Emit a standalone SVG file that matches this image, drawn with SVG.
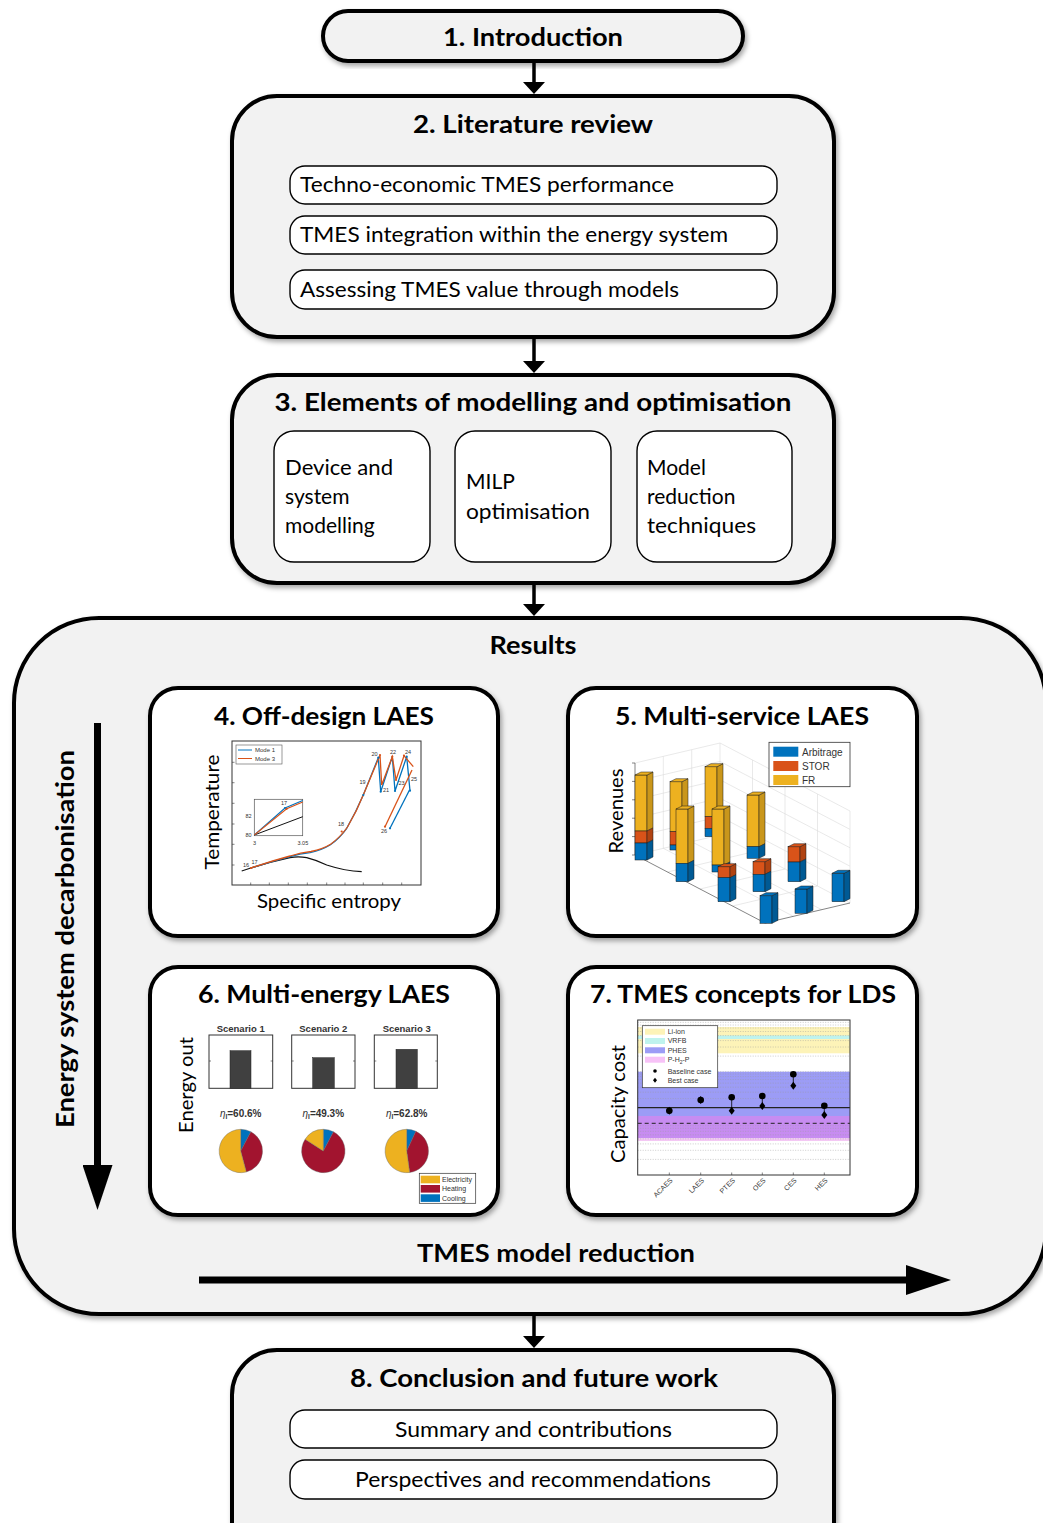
<svg xmlns="http://www.w3.org/2000/svg" width="1043" height="1523" viewBox="0 0 1043 1523">
<style>
.big{fill:#f2f2f2;stroke:#000;stroke-width:4;filter:url(#sh)}
.panel{fill:#fff;stroke:#000;stroke-width:4;filter:url(#sh)}
.inner{fill:#fff;stroke:#000;stroke-width:1.4}
.t{font-family:Lato,"Open Sans","Liberation Sans",sans-serif;font-weight:700;font-size:25px;text-anchor:middle;fill:#000}
.b{font-family:Lato,"Open Sans","Liberation Sans",sans-serif;font-size:21px;fill:#000}
.bc{font-family:Lato,"Open Sans","Liberation Sans",sans-serif;font-size:21px;fill:#000;text-anchor:middle}
.ax{font-family:Lato,"Open Sans","Liberation Sans",sans-serif;font-size:20px;fill:#000;text-anchor:middle}
.sm{font-family:"Liberation Sans",Arial,sans-serif;fill:#333}
.conn{stroke:#000;stroke-width:3.5;fill:none;marker-end:url(#ah)}
.bigarrow{stroke:#000;stroke-width:7;fill:none;marker-end:url(#ah2)}
.bar{stroke:#1a1a1a;stroke-width:0.5}
.by{fill:#EDB120}.bys{fill:#c9961b}
.br{fill:#D95319}.brs{fill:#b04312}
.bb{fill:#0072BD}.bbs{fill:#005a94}
.grid{stroke:#dadada;stroke-width:0.6;fill:none}
.dot{stroke:#9a9a9a;stroke-width:0.5;stroke-dasharray:1 1.5;fill:none}
</style>
<defs>
<filter id="sh" x="-5%" y="-5%" width="115%" height="120%">
<feDropShadow dx="2" dy="3" stdDeviation="2.5" flood-color="#000" flood-opacity="0.35"/>
</filter>
<marker id="ah" markerUnits="userSpaceOnUse" viewBox="0 0 12 22" markerWidth="12" markerHeight="22" refX="3" refY="11" orient="auto">
<path d="M0,0 L12,11 L0,22 z" fill="#000"/>
</marker>
<marker id="ah2" markerUnits="userSpaceOnUse" viewBox="0 0 45 30" markerWidth="45" markerHeight="30" refX="5" refY="15" orient="auto">
<path d="M0,0 L45,15 L0,30 z" fill="#000"/>
</marker>
</defs>

<rect width="1043" height="1523" fill="#fff"/>

<!-- Results container -->
<g id="results">
<rect class="big" x="14" y="618" width="1032" height="696" rx="85"/>
<text class="t" x="533" y="654" font-size="24" textLength="87" lengthAdjust="spacingAndGlyphs">Results</text>
<text class="t" transform="translate(74,939) rotate(-90)" textLength="378" lengthAdjust="spacingAndGlyphs">Energy system decarbonisation</text>
<text class="t" x="556" y="1262" textLength="278" lengthAdjust="spacingAndGlyphs">TMES model reduction</text>
<line class="bigarrow" x1="97.5" y1="723" x2="97.5" y2="1170"/>
<line class="bigarrow" x1="199" y1="1280" x2="911" y2="1280"/>
</g>

<!-- Connectors -->
<g id="connectors">
<line class="conn" x1="534" y1="62" x2="534" y2="85"/>
<line class="conn" x1="534" y1="338" x2="534" y2="364"/>
<line class="conn" x1="534" y1="584" x2="534" y2="607"/>
<line class="conn" x1="534" y1="1316" x2="534" y2="1339"/>
</g>

<g id="n1">
<rect class="big" x="323" y="11" width="420" height="50" rx="25"/>
<text class="t" x="533" y="46" textLength="180" lengthAdjust="spacingAndGlyphs">1. Introduction</text>
</g>

<g id="n2">
<rect class="big" x="232" y="96" width="602" height="241" rx="45"/>
<text class="t" x="533" y="133" textLength="240" lengthAdjust="spacingAndGlyphs">2. Literature review</text>
<rect class="inner" x="290" y="166" width="487" height="38" rx="15"/>
<text class="b" x="300" y="192" textLength="374" lengthAdjust="spacingAndGlyphs">Techno-economic TMES performance</text>
<rect class="inner" x="290" y="216" width="487" height="38" rx="15"/>
<text class="b" x="300" y="242" textLength="428" lengthAdjust="spacingAndGlyphs">TMES integration within the energy system</text>
<rect class="inner" x="290" y="270" width="487" height="39" rx="15"/>
<text class="b" x="300" y="297" textLength="379" lengthAdjust="spacingAndGlyphs">Assessing TMES value through models</text>
</g>

<g id="n3">
<rect class="big" x="232" y="375" width="602" height="208" rx="45"/>
<text class="t" x="533" y="411" textLength="517" lengthAdjust="spacingAndGlyphs">3. Elements of modelling and optimisation</text>
<rect class="inner" x="274" y="431" width="156" height="131" rx="20"/>
<text class="b" x="285" y="475" textLength="108" lengthAdjust="spacingAndGlyphs">Device and</text>
<text class="b" x="285" y="504">system</text>
<text class="b" x="285" y="533">modelling</text>
<rect class="inner" x="455" y="431" width="156" height="131" rx="20"/>
<text class="b" x="466" y="489">MILP</text>
<text class="b" x="466" y="519" textLength="124" lengthAdjust="spacingAndGlyphs">optimisation</text>
<rect class="inner" x="637" y="431" width="155" height="131" rx="20"/>
<text class="b" x="647" y="475">Model</text>
<text class="b" x="647" y="504">reduction</text>
<text class="b" x="647" y="533" textLength="109" lengthAdjust="spacingAndGlyphs">techniques</text>
</g>

<!-- Panel 4 -->
<g id="n4">
<rect class="panel" x="150" y="688" width="348" height="248" rx="28"/>
<text class="t" x="324" y="725" textLength="220" lengthAdjust="spacingAndGlyphs">4. Off-design LAES</text>
<text class="ax" transform="translate(219,812) rotate(-90)" textLength="115" lengthAdjust="spacingAndGlyphs">Temperature</text>
<text class="ax" x="329" y="908" textLength="144" lengthAdjust="spacingAndGlyphs">Specific entropy</text>
<rect x="232" y="741" width="189" height="144" fill="#fff" stroke="#333" stroke-width="1"/>
<g stroke="#333" stroke-width="0.6">
<line x1="232" y1="762.3" x2="234.5" y2="762.3"/><line x1="232" y1="782.7" x2="234.5" y2="782.7"/><line x1="232" y1="803.3" x2="234.5" y2="803.3"/><line x1="232" y1="824" x2="234.5" y2="824"/><line x1="232" y1="844.3" x2="234.5" y2="844.3"/><line x1="232" y1="865" x2="234.5" y2="865"/>
<line x1="250.7" y1="885" x2="250.7" y2="882.5"/><line x1="269.3" y1="885" x2="269.3" y2="882.5"/><line x1="288.3" y1="885" x2="288.3" y2="882.5"/><line x1="307.3" y1="885" x2="307.3" y2="882.5"/><line x1="326.7" y1="885" x2="326.7" y2="882.5"/><line x1="345" y1="885" x2="345" y2="882.5"/><line x1="363.3" y1="885" x2="363.3" y2="882.5"/><line x1="382.7" y1="885" x2="382.7" y2="882.5"/><line x1="401.7" y1="885" x2="401.7" y2="882.5"/>
</g>
<path d="M241.7,871 L250,868.3 Q270,862 290,857.7 Q298,856 306.7,857.7 Q316,860 326.7,865 Q345,871 361.7,871.7" fill="none" stroke="#111" stroke-width="1.2"/>
<path d="M250,868.3 Q270,862 290,856.7 Q300,853.5 310,852.7 Q322,850 330,845 Q340,838 346.7,828.3 Q356,812 363.3,795 L378.3,757.7 L380.7,791.7 L392.3,756.7 L395,791 L406.7,756.7 L410,790.7" fill="none" stroke="#0072BD" stroke-width="1.3"/>
<path d="M250,868.3 Q270,861.5 290,856 Q301,852.5 311,851.5 Q323,849 331,844 Q341,836.5 347.5,827 Q357,811 364,793.3 L380,755 L381.7,785 L392.3,756.7 L396,780 L404,755.7 L413.3,766.7" fill="none" stroke="#D95319" stroke-width="1.3"/>
<path d="M390,828.3 L409.5,790" fill="none" stroke="#0072BD" stroke-width="1.3"/>
<path d="M385,826.7 L412,770" fill="none" stroke="#D95319" stroke-width="1.3"/>
<g fill="#0072BD"><circle cx="378.3" cy="757.7" r="1.1"/><circle cx="380.7" cy="791.7" r="1.1"/><circle cx="395" cy="791" r="1.1"/><circle cx="406.7" cy="756.7" r="1.1"/><circle cx="410" cy="790.7" r="1.1"/><circle cx="390" cy="828.3" r="1.1"/><circle cx="363.3" cy="795" r="1.1"/></g>
<g fill="#D95319"><circle cx="380" cy="755" r="1.1"/><circle cx="392.3" cy="756.7" r="1.1"/><circle cx="396" cy="780" r="1.1"/><circle cx="404" cy="755.7" r="1.1"/><circle cx="385" cy="826.7" r="1.1"/><circle cx="341.7" cy="831.5" r="1.1"/><circle cx="251" cy="868" r="1.1"/></g>
<g class="sm" font-size="5.5">
<text x="243" y="867">16</text><text x="251.5" y="864">17</text><text x="338" y="826">18</text><text x="359.5" y="784">19</text><text x="371.5" y="756">20</text><text x="383" y="792">21</text><text x="390" y="753.5">22</text><text x="398.5" y="784.5">23</text><text x="405" y="753.5">24</text><text x="411" y="781">25</text><text x="381" y="832.5">26</text>
</g>
<rect x="236" y="745" width="46" height="19" fill="#fff" stroke="#555" stroke-width="0.6"/>
<line x1="238" y1="750" x2="252" y2="750" stroke="#0072BD" stroke-width="1"/>
<line x1="238" y1="758.5" x2="252" y2="758.5" stroke="#D95319" stroke-width="1"/>
<text class="sm" x="255" y="752" font-size="6">Mode 1</text>
<text class="sm" x="255" y="760.5" font-size="6">Mode 3</text>
<rect x="254.3" y="799.3" width="48.4" height="36.4" fill="#fff" stroke="#555" stroke-width="0.7"/>
<line x1="254.3" y1="835" x2="302.7" y2="816.7" stroke="#111" stroke-width="1"/>
<path d="M254.3,835 L285,808 L302.7,800.5" fill="none" stroke="#0072BD" stroke-width="1.1"/>
<path d="M254.3,835 L286.7,808.8 L302.7,802" fill="none" stroke="#D95319" stroke-width="1.1"/>
<circle cx="285" cy="808" r="1.1" fill="#0072BD"/><circle cx="286.7" cy="808.8" r="1.1" fill="#D95319"/>
<g class="sm" font-size="5.5"><text x="281" y="805">17</text><text x="245.5" y="818">82</text><text x="245.5" y="837">80</text><text x="253" y="845">3</text><text x="297.5" y="845">3.05</text></g>
</g>

<!-- Panel 5 -->
<g id="n5">
<rect class="panel" x="568" y="688" width="349" height="248" rx="28"/>
<text class="t" x="742" y="725" textLength="254" lengthAdjust="spacingAndGlyphs">5. Multi-service LAES</text>
<text class="ax" transform="translate(623,811) rotate(-90)" textLength="85" lengthAdjust="spacingAndGlyphs">Revenues</text>
<g class="grid">
<path d="M635,763 L720,743 L850,811 L850,903 M720,743 L720,835 M635,855 L720,835 L850,903"/>
<path d="M635,781.4 L720,761.4 L850,829.4 M635,799.8 L720,779.8 L850,847.8 M635,818.2 L720,798.2 L850,866.2 M635,836.6 L720,816.6 L850,884.6"/>
<path d="M663.3,756.3 L663.3,848.3 M691.7,749.7 L691.7,841.7 M752.5,760 L752.5,852 M785,777 L785,869 M817.5,794 L817.5,886"/>
<path d="M667.5,872 L752.5,852 M700,889 L785,869 M732.5,906 L817.5,886 M663.3,848.3 L793.3,916.3 M691.7,841.7 L821.7,909.7"/>
</g>
<g stroke="#333" stroke-width="0.6">
<line x1="635" y1="855" x2="765" y2="923"/><line x1="765" y1="923" x2="850" y2="903"/><line x1="635" y1="763" x2="635" y2="855"/>
<line x1="632" y1="763" x2="635" y2="763"/><line x1="632" y1="781.4" x2="635" y2="781.4"/><line x1="632" y1="799.8" x2="635" y2="799.8"/><line x1="632" y1="818.2" x2="635" y2="818.2"/><line x1="632" y1="836.6" x2="635" y2="836.6"/><line x1="632" y1="855" x2="635" y2="855"/>
<line x1="678" y1="878" x2="676" y2="880"/><line x1="720" y1="900" x2="718" y2="902"/><line x1="762" y1="921.5" x2="760" y2="923.5"/>
</g>
<!-- row 3 -->
<g class="bar">
<rect class="by" x="705" y="766.7" width="12" height="50"/><polygon class="bys" points="717,766.7 723,763.7 723,813.7 717,816.7"/>
<rect class="br" x="705" y="816.7" width="12" height="11.6"/><polygon class="brs" points="717,816.7 723,813.7 723,825.3 717,828.3"/>
<rect class="bb" x="705" y="828.3" width="12" height="8.4"/><polygon class="bbs" points="717,828.3 723,825.3 723,833.7 717,836.7"/>
<polygon class="by" points="705,766.7 711,763.7 723,763.7 717,766.7"/>

<rect class="by" x="747" y="795" width="12" height="51.7"/><polygon class="bys" points="759,795 765,792 765,843.7 759,846.7"/>
<rect class="bb" x="747" y="846.7" width="12" height="11.6"/><polygon class="bbs" points="759,846.7 765,843.7 765,855.3 759,858.3"/>
<polygon class="by" points="747,795 753,792 765,792 759,795"/>

<rect class="br" x="788" y="846.7" width="12" height="15.3"/><polygon class="brs" points="800,846.7 806,843.7 806,859 800,862"/>
<rect class="bb" x="788" y="862" width="12" height="19.7"/><polygon class="bbs" points="800,862 806,859 806,878.7 800,881.7"/>
<polygon class="br" points="788,846.7 794,843.7 806,843.7 800,846.7"/>

<rect class="bb" x="832" y="873.3" width="12" height="28.4"/><polygon class="bbs" points="844,873.3 850,870.3 850,898.7 844,901.7"/>
<polygon class="bb" points="832,873.3 838,870.3 850,870.3 844,873.3"/>
</g>
<!-- row 2 -->
<g class="bar">
<rect class="by" x="670" y="781.7" width="12" height="50"/><polygon class="bys" points="682,781.7 688,778.7 688,828.7 682,831.7"/>
<rect class="br" x="670" y="831.7" width="12" height="13.3"/><polygon class="brs" points="682,831.7 688,828.7 688,842 682,845"/>
<rect class="bb" x="670" y="845" width="12" height="5"/><polygon class="bbs" points="682,845 688,842 688,847 682,850"/>
<polygon class="by" points="670,781.7 676,778.7 688,778.7 682,781.7"/>

<rect class="by" x="712" y="809" width="12" height="56"/><polygon class="bys" points="724,809 730,806 730,862 724,865"/>
<rect class="bb" x="712" y="865" width="12" height="7"/><polygon class="bbs" points="724,865 730,862 730,869 724,872"/>
<polygon class="by" points="712,809 718,806 730,806 724,809"/>

<rect class="br" x="753" y="861.7" width="12" height="12.6"/><polygon class="brs" points="765,861.7 771,858.7 771,871.3 765,874.3"/>
<rect class="bb" x="753" y="874.3" width="12" height="17.4"/><polygon class="bbs" points="765,874.3 771,871.3 771,888.7 765,891.7"/>
<polygon class="br" points="753,861.7 759,858.7 771,858.7 765,861.7"/>

<rect class="bb" x="795" y="889" width="12" height="24.3"/><polygon class="bbs" points="807,889 813,886 813,910.3 807,913.3"/>
<polygon class="bb" points="795,889 801,886 813,886 807,889"/>
</g>
<!-- row 1 -->
<g class="bar">
<rect class="by" x="635" y="775" width="12" height="56"/><polygon class="bys" points="647,775 653,772 653,828 647,831"/>
<rect class="br" x="635" y="831" width="12" height="12"/><polygon class="brs" points="647,831 653,828 653,840 647,843"/>
<rect class="bb" x="635" y="843" width="12" height="17"/><polygon class="bbs" points="647,843 653,840 653,857 647,860"/>
<polygon class="by" points="635,775 641,772 653,772 647,775"/>

<rect class="by" x="676" y="809" width="12" height="54.3"/><polygon class="bys" points="688,809 694,806 694,860.3 688,863.3"/>
<rect class="bb" x="676" y="863.3" width="12" height="18.4"/><polygon class="bbs" points="688,863.3 694,860.3 694,878.7 688,881.7"/>
<polygon class="by" points="676,809 682,806 694,806 688,809"/>

<rect class="br" x="718" y="866.7" width="12" height="11"/><polygon class="brs" points="730,866.7 736,863.7 736,874.7 730,877.7"/>
<rect class="bb" x="718" y="877.7" width="12" height="24"/><polygon class="bbs" points="730,877.7 736,874.7 736,898.7 730,901.7"/>
<polygon class="br" points="718,866.7 724,863.7 736,863.7 730,866.7"/>

<rect class="bb" x="760" y="895.7" width="12" height="27.6"/><polygon class="bbs" points="772,895.7 778,892.7 778,920.3 772,923.3"/>
<polygon class="bb" points="760,895.7 766,892.7 778,892.7 772,895.7"/>
</g>
<rect x="769" y="742.3" width="81" height="44.4" fill="#fff" stroke="#333" stroke-width="0.8"/>
<rect x="773.3" y="746.7" width="25" height="10" fill="#0072BD"/>
<rect x="773.3" y="761" width="25" height="10" fill="#D95319"/>
<rect x="773.3" y="775" width="25" height="10" fill="#EDB120"/>
<g class="sm" font-size="10" fill="#222"><text x="802" y="755.5">Arbitrage</text><text x="802" y="769.5">STOR</text><text x="802" y="783.5">FR</text></g>
</g>

<!-- Panel 6 -->
<g id="n6">
<rect class="panel" x="150" y="967" width="348" height="248" rx="28"/>
<text class="t" x="324" y="1003" textLength="252" lengthAdjust="spacingAndGlyphs">6. Multi-energy LAES</text>
<text class="ax" transform="translate(193,1085) rotate(-90)" textLength="96" lengthAdjust="spacingAndGlyphs">Energy out</text>
<g class="sm" font-size="9.5" font-weight="700" fill="#111" text-anchor="middle">
<text x="240.7" y="1031.7">Scenario 1</text><text x="323.3" y="1031.7">Scenario 2</text><text x="406.7" y="1031.7">Scenario 3</text>
</g>
<g fill="#fff" stroke="#333" stroke-width="1">
<rect x="209" y="1035" width="63.7" height="53.3"/><rect x="291.7" y="1035" width="63.3" height="53.3"/><rect x="374.3" y="1035" width="63" height="53.3"/>
</g>
<g stroke="#333" stroke-width="0.6">
<line x1="209" y1="1061" x2="211" y2="1061"/><line x1="270.7" y1="1061" x2="272.7" y2="1061"/>
<line x1="291.7" y1="1061" x2="293.7" y2="1061"/><line x1="353" y1="1061" x2="355" y2="1061"/>
<line x1="374.3" y1="1061" x2="376.3" y2="1061"/><line x1="435.3" y1="1061" x2="437.3" y2="1061"/>
</g>
<g fill="#404040" stroke="#222" stroke-width="0.5">
<rect x="230" y="1050.7" width="21" height="37.6"/><rect x="312.7" y="1057.7" width="21.6" height="30.6"/><rect x="396" y="1049.3" width="21.3" height="39"/>
</g>
<g class="sm" font-size="10" font-weight="700" fill="#111" text-anchor="middle">
<text x="240.7" y="1116.7"><tspan font-style="italic" font-weight="400">η</tspan><tspan font-size="6.5" dy="2">I</tspan><tspan dy="-2">=60.6%</tspan></text>
<text x="323.3" y="1116.7"><tspan font-style="italic" font-weight="400">η</tspan><tspan font-size="6.5" dy="2">I</tspan><tspan dy="-2">=49.3%</tspan></text>
<text x="406.7" y="1116.7"><tspan font-style="italic" font-weight="400">η</tspan><tspan font-size="6.5" dy="2">I</tspan><tspan dy="-2">=62.8%</tspan></text>
</g>
<g stroke="#666" stroke-width="0.4">
<path d="M240.7,1151 L240.7,1129.3 A21.7,21.7 0 0 1 250.9,1131.8 Z" fill="#0072BD"/>
<path d="M240.7,1151 L250.9,1131.8 A21.7,21.7 0 0 1 246.3,1172 Z" fill="#A2142F"/>
<path d="M240.7,1151 L246.3,1172 A21.7,21.7 0 1 1 240.7,1129.3 Z" fill="#EDB120"/>
<path d="M323.3,1151 L323.3,1129.3 A21.7,21.7 0 0 1 333.5,1131.8 Z" fill="#0072BD"/>
<path d="M323.3,1151 L333.5,1131.8 A21.7,21.7 0 1 1 305.1,1139.2 Z" fill="#A2142F"/>
<path d="M323.3,1151 L305.1,1139.2 A21.7,21.7 0 0 1 323.3,1129.3 Z" fill="#EDB120"/>
<path d="M406.7,1151 L406.7,1129.3 A21.7,21.7 0 0 1 415.9,1131.3 Z" fill="#0072BD"/>
<path d="M406.7,1151 L415.9,1131.3 A21.7,21.7 0 0 1 409.7,1172.5 Z" fill="#A2142F"/>
<path d="M406.7,1151 L409.7,1172.5 A21.7,21.7 0 1 1 406.7,1129.3 Z" fill="#EDB120"/>
</g>
<rect x="419.3" y="1173.3" width="56.4" height="30" fill="#fff" stroke="#333" stroke-width="0.7"/>
<rect x="420.7" y="1175.7" width="19.3" height="7.6" fill="#EDB120"/>
<rect x="420.7" y="1185" width="19.3" height="7.6" fill="#A2142F"/>
<rect x="420.7" y="1194.3" width="19.3" height="7.6" fill="#0072BD"/>
<g class="sm" font-size="7"><text x="442" y="1182">Electricity</text><text x="442" y="1191.3">Heating</text><text x="442" y="1200.6">Cooling</text></g>
</g>

<!-- Panel 7 -->
<g id="n7">
<rect class="panel" x="568" y="967" width="349" height="248" rx="28"/>
<text class="t" x="743" y="1003" textLength="306" lengthAdjust="spacingAndGlyphs">7. TMES concepts for LDS</text>
<text class="ax" transform="translate(625,1104) rotate(-90)" textLength="118" lengthAdjust="spacingAndGlyphs">Capacity cost</text>
<rect x="637.7" y="1020" width="212.3" height="155" fill="#fff"/>
<rect x="637.7" y="1027" width="212.3" height="26.3" fill="#fdf3b8"/>
<rect x="637.7" y="1035.5" width="212.3" height="3.5" fill="#bff3ee"/>
<rect x="637.7" y="1071.7" width="212.3" height="44.3" fill="#9c9cf6"/>
<rect x="637.7" y="1116" width="212.3" height="22.3" fill="#c78cf1"/>
<rect x="637.7" y="1138.3" width="212.3" height="2.7" fill="#f4c8f4"/>
<g class="dot">
<path d="M637.7,1159.4H850M637.7,1150.3H850M637.7,1143.9H850M637.7,1138.9H850M637.7,1134.8H850M637.7,1131.3H850M637.7,1128.3H850M637.7,1125.7H850"/>
<path d="M637.7,1098.6H850M637.7,1092.2H850M637.7,1087.2H850M637.7,1083.1H850M637.7,1079.6H850M637.7,1076.6H850M637.7,1074H850M637.7,1071.7H850"/>
<path d="M637.7,1056.1H850M637.7,1047H850M637.7,1040.6H850M637.7,1035.6H850M637.7,1031.5H850M637.7,1028H850M637.7,1025H850M637.7,1022.4H850"/>
</g>
<line x1="637.7" y1="1107.7" x2="850" y2="1107.7" stroke="#222" stroke-width="1.2"/>
<line x1="637.7" y1="1123.3" x2="850" y2="1123.3" stroke="#222" stroke-width="1" stroke-dasharray="4 3"/>
<rect x="637.7" y="1020" width="212.3" height="155" fill="none" stroke="#333" stroke-width="1"/>
<g stroke="#333" stroke-width="0.6">
<line x1="669.3" y1="1175" x2="669.3" y2="1172.5"/><line x1="700.7" y1="1175" x2="700.7" y2="1172.5"/><line x1="731.7" y1="1175" x2="731.7" y2="1172.5"/><line x1="762.3" y1="1175" x2="762.3" y2="1172.5"/><line x1="793.3" y1="1175" x2="793.3" y2="1172.5"/><line x1="824.3" y1="1175" x2="824.3" y2="1172.5"/>
</g>
<g stroke="#000" stroke-width="0.8">
<line x1="731.7" y1="1097.3" x2="731.7" y2="1110.7"/><line x1="762.3" y1="1096" x2="762.3" y2="1106"/><line x1="793.3" y1="1074.3" x2="793.3" y2="1085.7"/><line x1="824.3" y1="1105.7" x2="824.3" y2="1115"/>
</g>
<g fill="#000">
<circle cx="669.3" cy="1110.7" r="3.3"/><circle cx="700.7" cy="1100" r="3.3"/><circle cx="731.7" cy="1097.3" r="3.3"/><circle cx="762.3" cy="1096" r="3.3"/><circle cx="793.3" cy="1074.3" r="3.3"/><circle cx="824.3" cy="1105.7" r="3.3"/>
<path d="M669.3,1106.7 L672.3,1110.7 L669.3,1114.7 L666.3,1110.7Z"/>
<path d="M700.7,1096 L703.7,1100 L700.7,1104 L697.7,1100Z"/>
<path d="M731.7,1106.7 L734.7,1110.7 L731.7,1114.7 L728.7,1110.7Z"/>
<path d="M762.3,1102 L765.3,1106 L762.3,1110 L759.3,1106Z"/>
<path d="M793.3,1081.7 L796.3,1085.7 L793.3,1089.7 L790.3,1085.7Z"/>
<path d="M824.3,1111 L827.3,1115 L824.3,1119 L821.3,1115Z"/>
</g>
<rect x="642.3" y="1025.7" width="75.4" height="62" fill="#fff" stroke="#333" stroke-width="0.7"/>
<rect x="645" y="1028.7" width="20" height="6" fill="#fdf3b8"/>
<rect x="645" y="1038" width="20" height="6" fill="#bff3ee"/>
<rect x="645" y="1047.3" width="20" height="6" fill="#9c9cf6"/>
<rect x="645" y="1056.7" width="20" height="6" fill="#f7c2f7"/>
<circle cx="655" cy="1071" r="1.8" fill="#000"/>
<path d="M655,1077.8 L657,1080.3 L655,1082.8 L653,1080.3Z" fill="#000"/>
<g class="sm" font-size="7">
<text x="667.7" y="1034">Li-ion</text>
<text x="667.7" y="1043.3">VRFB</text>
<text x="667.7" y="1052.6">PHES</text>
<text x="667.7" y="1062">P-H<tspan font-size="5" dy="1.5">2</tspan><tspan dy="-1.5">-P</tspan></text>
<text x="667.7" y="1073.5">Baseline case</text>
<text x="667.7" y="1082.8">Best case</text>
</g>
<g class="sm" font-size="7" text-anchor="end">
<text transform="translate(673,1181) rotate(-45)">ACAES</text>
<text transform="translate(704.5,1181) rotate(-45)">LAES</text>
<text transform="translate(735.5,1181) rotate(-45)">PTES</text>
<text transform="translate(766,1181) rotate(-45)">OES</text>
<text transform="translate(797,1181) rotate(-45)">CES</text>
<text transform="translate(828,1181) rotate(-45)">HES</text>
</g>
</g>

<g id="n8">
<rect class="big" x="232" y="1350" width="602" height="220" rx="45"/>
<text class="t" x="534" y="1387" textLength="368" lengthAdjust="spacingAndGlyphs">8. Conclusion and future work</text>
<rect class="inner" x="290" y="1410" width="487" height="38" rx="15"/>
<text class="bc" x="533.5" y="1437" textLength="277" lengthAdjust="spacingAndGlyphs">Summary and contributions</text>
<rect class="inner" x="290" y="1460" width="487" height="39" rx="15"/>
<text class="bc" x="533" y="1487" textLength="356" lengthAdjust="spacingAndGlyphs">Perspectives and recommendations</text>
</g>
</svg>
